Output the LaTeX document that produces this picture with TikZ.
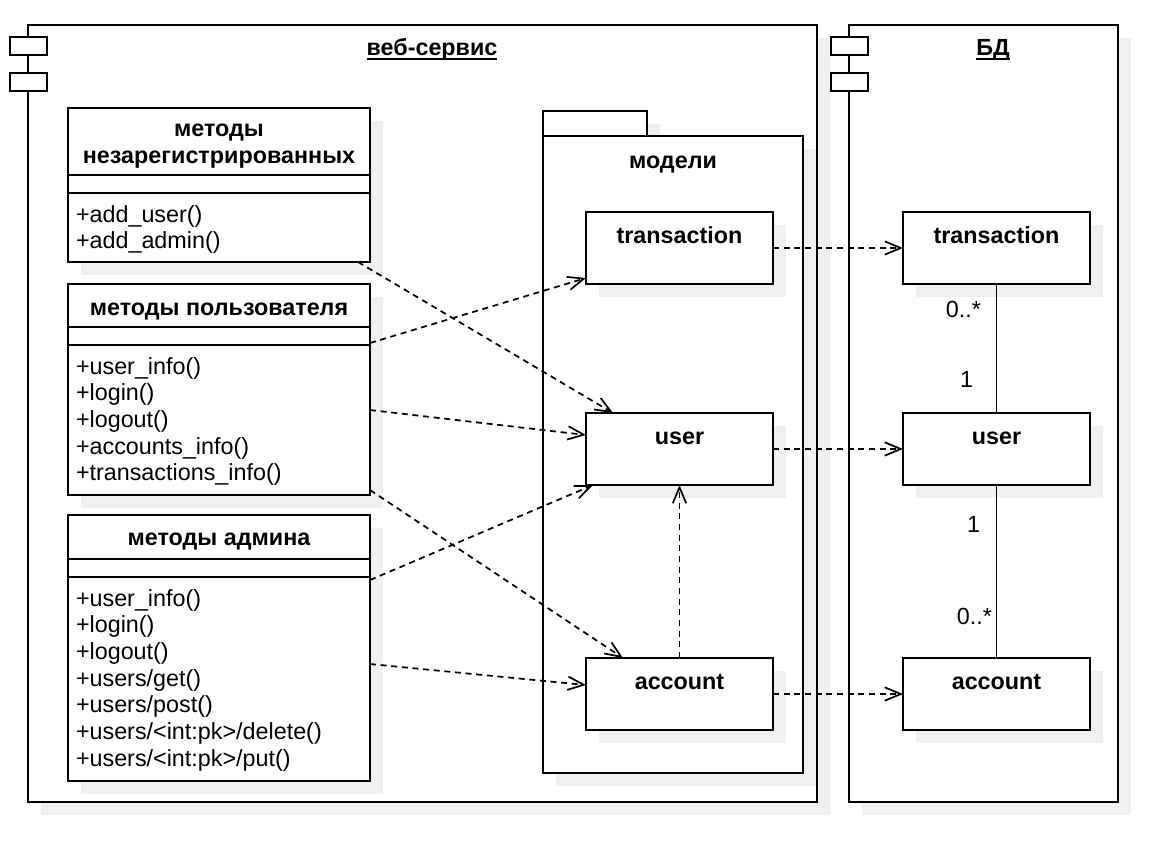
\documentclass[tikz,border=0pt]{standalone}
\usepackage{fontspec}
\setmainfont{Liberation Sans}
\usetikzlibrary{arrows.meta,shadows,calc}
\definecolor{shadowgray}{RGB}{240,240,240}
\begin{document}
\fontsize{17.5}{20}\selectfont
\begin{tikzpicture}[x=0.75pt,y=-0.75pt,
  ln/.style={line width=1.4pt},
  sz/.style 2 args={minimum width=#1*0.75pt, minimum height=#2*0.75pt},
  shade/.style={drop shadow={shadow xshift=9.5pt, shadow yshift=-9.5pt, fill=shadowgray, opacity=1}},
  box/.style={rectangle, draw, ln, fill=white, inner sep=0pt, outer sep=0pt, anchor=north west},
  sbox/.style={box, shade},
  txt/.style={inner sep=0pt, outer sep=0pt, font=\fontsize{17.5}{20}\selectfont},
  ttl/.style={txt, font=\fontsize{17.5}{20}\selectfont\bfseries, anchor=base},
  meth/.style={txt, anchor=base west},
  mult/.style={txt, anchor=base east},
  dep/.style={line width=1.3pt, dash pattern=on 4.5pt off 3.5pt,
              -{Straight Barb[length=12pt,width=10pt,line width=1.3pt]}},
  assoc/.style={line width=1.3pt}
]
\useasboundingbox (0,0) rectangle (1170,844);

% ---------- component: web service ----------
\node[sbox, sz={789}{777}] (ws) at (28,25) {};
\node[box, sz={37}{18}] (wsi1) at (10,37) {};
\node[box, sz={37}{18}] (wsi2) at (10,73) {};
\node[ttl] (wst) at (432,55) {веб-сервис};
\draw[line width=1.3pt] ([yshift=-3pt]wst.base west) -- ([yshift=-3pt]wst.base east);

% ---------- component: database ----------
\node[sbox, sz={269}{777}] (db) at (849,25) {};
\node[box, sz={37}{18}] (dbi1) at (831,37) {};
\node[box, sz={37}{18}] (dbi2) at (831,73) {};
\node[ttl] (dbt) at (993,55) {БД};
\draw[line width=1.3pt] ([yshift=-3pt]dbt.base west) -- ([yshift=-3pt]dbt.base east);

% ---------- class: unregistered methods ----------
\node[sbox, sz={302}{154}] (c1) at (68,108) {};
\draw[ln] ($(c1.north west)+(0,67)$) -- ($(c1.north east)+(0,67)$);
\draw[ln] ($(c1.north west)+(0,85)$) -- ($(c1.north east)+(0,85)$);
\node[ttl] (c1t1) at (219,136.5) {методы};
\node[ttl] (c1t2) at (219,163) {незарегистрированных};
\foreach \m [count=\i from 0] in {+add\_user(),+add\_admin()}
  \node[meth] (c1m\i) at (76,{222+26.7*\i}) {\m};

% ---------- class: user methods ----------
\node[sbox, sz={302}{211}] (c2) at (68,284) {};
\draw[ln] ($(c2.north west)+(0,43)$) -- ($(c2.north east)+(0,43)$);
\draw[ln] ($(c2.north west)+(0,61)$) -- ($(c2.north east)+(0,61)$);
\node[ttl] (c2t) at (219,315.5) {методы пользователя};
\foreach \m [count=\i from 0] in {+user\_info(),+login(),+logout(),+accounts\_info(),+transactions\_info()}
  \node[meth] (c2m\i) at (76,{374+26.7*\i}) {\m};

% ---------- class: admin methods ----------
\node[sbox, sz={302}{266}] (c3) at (68,515) {};
\draw[ln] ($(c3.north west)+(0,44)$) -- ($(c3.north east)+(0,44)$);
\draw[ln] ($(c3.north west)+(0,62)$) -- ($(c3.north east)+(0,62)$);
\node[ttl] (c3t) at (219,545) {методы админа};
\foreach \m [count=\i from 0] in {+user\_info(),+login(),+logout(),+users/get(),+users/post(),+users/<int:pk>/delete(),+users/<int:pk>/put()}
  \node[meth] (c3m\i) at (76,{606+26.7*\i}) {\m};

% ---------- package: models ----------
\node[sbox, sz={104}{25}] (pkgtab) at (543,111) {};
\node[sbox, sz={260}{637}] (pkg) at (543,136) {};
\node[ttl] (pkgt) at (673,168) {модели};

\node[sbox, sz={187}{72}] (mtr) at (586,212) {};
\node[ttl] (mtrt) at (679.5,243) {transaction};
\node[sbox, sz={187}{72}] (musr) at (586,413) {};
\node[ttl] (musrt) at (679.5,444) {user};
\node[sbox, sz={187}{72}] (macc) at (586,658) {};
\node[ttl] (macct) at (679.5,689) {account};

% ---------- database tables ----------
\node[sbox, sz={187}{72}] (dtr) at (903,212) {};
\node[ttl] (dtrt) at (996.5,243) {transaction};
\node[sbox, sz={187}{72}] (dusr) at (903,413) {};
\node[ttl] (dusrt) at (996.5,444) {user};
\node[sbox, sz={187}{72}] (dacc) at (903,658) {};
\node[ttl] (dacct) at (996.5,689) {account};

% ---------- associations between tables ----------
\draw[assoc] (dtr.south) -- (dusr.north);
\draw[assoc] (dusr.south) -- (dacc.north);
\node[mult] (m1) at (981,317) {0..*};
\node[mult] (m2) at (973,387) {1};
\node[mult] (m3) at (980,532) {1};
\node[mult] (m4) at (992,624) {0..*};

% ---------- dependencies ----------
\draw[dep] (mtr.east) -- (dtr.west);
\draw[dep] (musr.east) -- (dusr.west);
\draw[dep] (macc.east) -- (dacc.west);
\draw[dep] (macc.north) -- (musr.south);

\draw[dep] ($(c1.south west)+(290,0)$) -- ($(musr.north west)+(27,0)$);
\draw[dep] ($(c2.north east)+(0,59)$) -- ($(mtr.north west)+(0,66)$);
\draw[dep] ($(c2.north east)+(0,126)$) -- ($(musr.north west)+(0,22)$);
\draw[dep] ($(c2.north east)+(0,206)$) -- ($(macc.north west)+(37,0)$);
\draw[dep] ($(c3.north east)+(0,65)$) -- ($(musr.south west)+(7,0)$);
\draw[dep] ($(c3.north east)+(0,149)$) -- ($(macc.north west)+(0,27)$);
\end{tikzpicture}
\end{document}
